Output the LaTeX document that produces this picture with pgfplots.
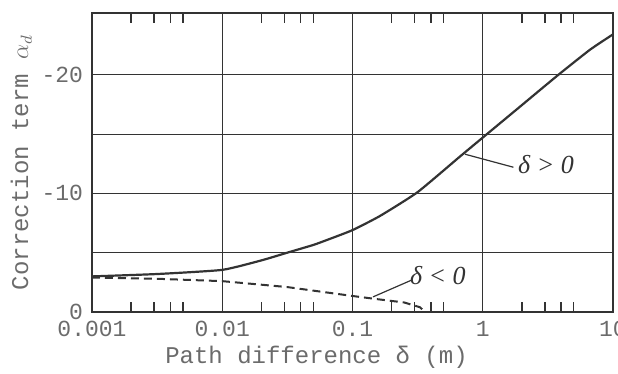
\documentclass[border=0pt]{standalone}
\usepackage{fontspec}
\setmainfont{Liberation Serif}
\setmonofont{Liberation Mono}
\usepackage{pgfplots}
\pgfplotsset{compat=1.18}
\definecolor{ink}{gray}{0.2}
\definecolor{txt}{gray}{0.42}
\begin{document}
\begin{tikzpicture}
\begin{axis}[
  scale only axis,
  width=260.5pt, height=149.5pt,
  xmode=log, log basis x=10,
  xmin=0.001, xmax=10,
  ymin=0, ymax=25.2,
  axis line style={ink, line width=0.9pt},
  xtick={0.001,0.01,0.1,1,10},
  xticklabels={0.001,0.01,0.1,1,10},
  minor xtick={0.002,0.003,0.004,0.005,0.02,0.03,0.04,0.05,0.2,0.3,0.4,0.5,2,3,4,5},
  ytick={0,5,10,15,20},
  yticklabels={0,,-10,,-20},
  tick align=inside,
  major tick length=0pt,
  minor tick length=5pt,
  minor tick style={ink, line width=0.7pt},
  xmajorgrids, ymajorgrids,
  major grid style={ink, line width=0.5pt},
  ticklabel style={font=\ttfamily\fontsize{11.5}{13}\selectfont, text=txt},
  xticklabel style={yshift=-1pt},
  yticklabel style={xshift=-1pt},
  xlabel={Path difference δ (m)},
  ylabel={Correction term $\alpha_d$},
  label style={font=\ttfamily\fontsize{12}{14}\selectfont, text=txt},
  xlabel style={xshift=-18pt, yshift=2pt},
  ylabel style={yshift=-2pt},
  clip=false,
]
\addplot[ink, line width=1.1pt, smooth, tension=0.3] coordinates {
 (0.001,3.0) (0.00316,3.2) (0.01,3.55) (0.02,4.35) (0.0316,5.0) (0.05,5.65) (0.063,6.05) (0.1,6.9)
 (0.163,8.1) (0.316,10.1) (0.668,13.1) (1,14.7) (1.93,17.3) (3.72,19.9) (6.65,22.1) (10,23.4)
};
\addplot[ink, line width=1.0pt, dash pattern=on 4pt off 2.5pt] coordinates {
 (0.001,2.9) (0.00316,2.8) (0.01,2.6) (0.0316,2.1) (0.1,1.35) (0.15,1.1) (0.25,0.8) (0.33,0.4) (0.36,0)
};
\draw[ink, line width=0.6pt] (axis cs:0.73,13.3) -- (axis cs:1.72,12.2);
\node[text=ink, font=\itshape\fontsize{13}{15}\selectfont] at (axis cs:3.06,12.4) {δ > 0};
\draw[ink, line width=0.6pt] (axis cs:0.286,2.7) -- (axis cs:0.1436,1.27);
\node[text=ink, font=\itshape\fontsize{13}{15}\selectfont] at (axis cs:0.453,3.1) {δ < 0};
\end{axis}
\pgfresetboundingbox
\path[use as bounding box] ([shift={(-46pt,-31pt)}]current axis.south west) rectangle ([shift={(2.5pt,6.5pt)}]current axis.north east);
\end{tikzpicture}
\end{document}
